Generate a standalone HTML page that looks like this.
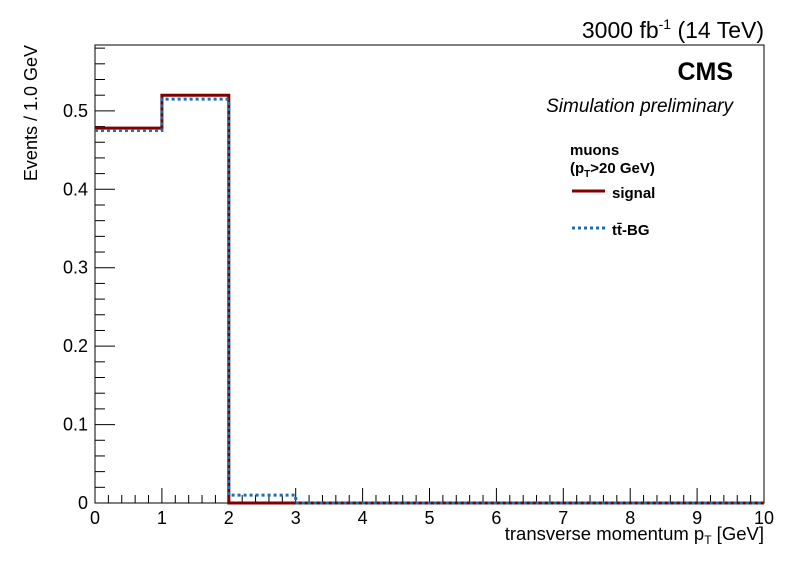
<!DOCTYPE html>
<html><head><meta charset="utf-8"><style>
body{margin:0;background:#fff;}
svg{display:block;font-family:"Liberation Sans",Arial,sans-serif;}
</style></head><body>
<svg id="c" width="796" height="572">
<rect x="0" y="0" width="796" height="572" fill="#fff"/>
<rect x="95" y="45" width="669" height="458" fill="none" stroke="#000" stroke-width="1"/>
<g id="ticks"></g>
<g id="marks"></g>
<text x="764" y="38" text-anchor="end" font-size="23">3000 fb<tspan dy="-9" font-size="14">-1</tspan><tspan dy="9"> (14 TeV)</tspan></text>
<text x="733" y="80" text-anchor="end" font-size="25" font-weight="bold">CMS</text>
<text x="733" y="112" text-anchor="end" font-size="19" font-style="italic">Simulation preliminary</text>
<text x="570" y="155" font-size="15" font-weight="bold">muons</text>
<text x="570" y="173" font-size="15" font-weight="bold">(p<tspan dy="4" font-size="10">T</tspan><tspan dy="-4">&gt;20 GeV)</tspan></text>
<g><line x1="572" y1="191" x2="605" y2="191" stroke="#800000" stroke-width="3"/><text x="612" y="198" font-size="15" font-weight="bold">signal</text></g>
<g><line x1="572" y1="228" x2="605" y2="228" stroke="#1f6fa8" stroke-width="3" stroke-dasharray="3,3"/><text x="612" y="235" font-size="15" font-weight="bold">tt̄-BG</text></g>
<text x="764" y="540" text-anchor="end" font-size="18.5">transverse momentum p<tspan dy="4" font-size="12">T</tspan><tspan dy="-4"> [GeV]</tspan></text>
<text transform="translate(37,45) rotate(-90)" text-anchor="end" font-size="18">Events / 1.0 GeV</text>
</svg>
<script>
const binEdges=[0,1,2,3,4,5,6,7,8,9,10];
const signalValues=[0.478,0.520,0,0,0,0,0,0,0,0];
const bgValues=[0.475,0.515,0.010,0,0,0,0,0,0,0];
const xTickLabels=["0","1","2","3","4","5","6","7","8","9","10"];
const yTickValues=[0,0.1,0.2,0.3,0.4,0.5];
const yTickLabels=["0","0.1","0.2","0.3","0.4","0.5"];
const X0=95,X1=764,Y0=503,Y1=45,XMAX=10,YMAX=0.584;
const sx=v=>X0+(X1-X0)*v/XMAX;
const sy=v=>Y0-(Y0-Y1)*v/YMAX;
const NS="http://www.w3.org/2000/svg";
const ticks=document.getElementById('ticks'),marks=document.getElementById('marks');
function ln(p,x1,y1,x2,y2){const l=document.createElementNS(NS,'line');l.setAttribute('x1',x1);l.setAttribute('y1',y1);l.setAttribute('x2',x2);l.setAttribute('y2',y2);l.setAttribute('stroke','#000');p.appendChild(l);return l;}
function tx(p,x,y,s,a){const t=document.createElementNS(NS,'text');t.setAttribute('x',x);t.setAttribute('y',y);t.setAttribute('font-size','18');t.setAttribute('text-anchor',a);t.textContent=s;p.appendChild(t);return t;}
for(let i=0;i<=XMAX*5;i++){const v=i/5,x=sx(v),maj=i%5===0;
 const l=ln(ticks,x,Y0,x,Y0-(maj?15:8));
 
 }
xTickLabels.forEach((s,i)=>{const t=tx(ticks,sx(binEdges[i]),524,s,'middle');
 
 });
for(let i=0;i*0.02<=YMAX;i++){const y=sy(i*0.02),maj=i%5===0;
 const l=ln(ticks,X0,y,X0+(maj?20:10),y);
 
 }
yTickValues.forEach((v,i)=>{const t=tx(ticks,88,sy(v)+6,yTickLabels[i],'end');
 
 });
function hist(vals,color,dash,name){let d='';
 vals.forEach((v,i)=>{d+=(i===0?'M':' L')+sx(binEdges[i])+','+sy(v)+' L'+sx(binEdges[i+1])+','+sy(v);});
 const p=document.createElementNS(NS,'path');p.setAttribute('d',d);p.setAttribute('fill','none');p.setAttribute('stroke',color);p.setAttribute('stroke-width','3');if(dash)p.setAttribute('stroke-dasharray',dash);
 
 
 marks.appendChild(p);}
hist(signalValues,'#800000',null,'signal-histogram');
hist(bgValues,'#1f6fa8','3,3','bg-histogram');
</script>
</body></html>
